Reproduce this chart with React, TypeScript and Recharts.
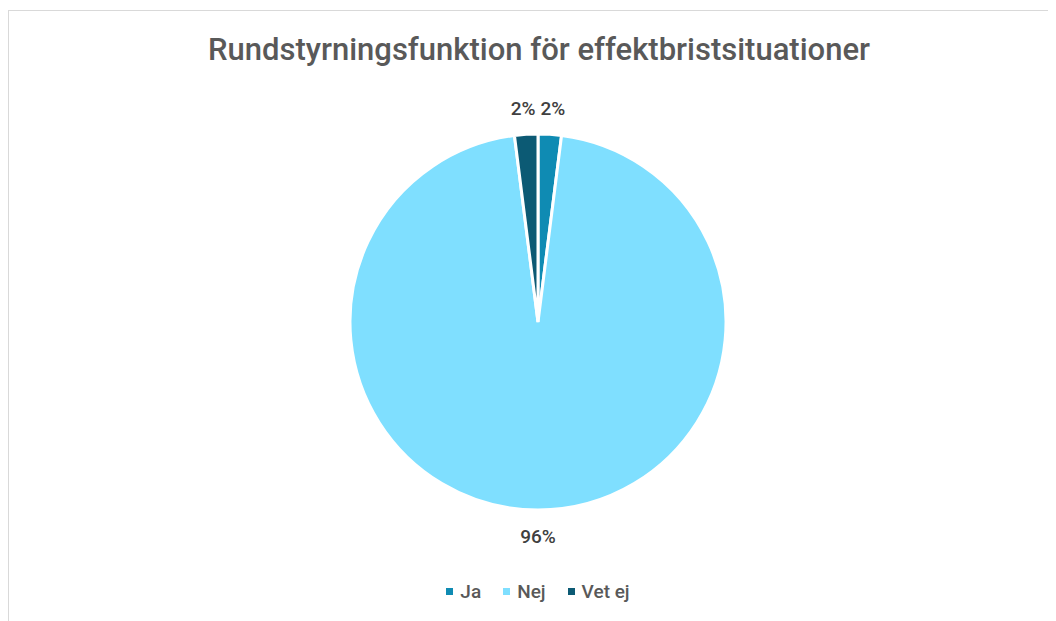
import React from 'react';
import { PieChart, Pie, Cell, Legend } from 'recharts';

const categories = ['Ja', 'Nej', 'Vet ej'];
const shares = [2, 96, 2];
const colors = ['#0f8bb3', '#7fdfff', '#0c5a74'];

const data = categories.map((name, i) => ({ name, value: shares[i] }));

const RADIAN = Math.PI / 180;

const renderLabel = (props: any) => {
    const { cx, cy, midAngle, outerRadius, percent } = props;
    const r = outerRadius + 26;
    const cos = Math.cos(-midAngle * RADIAN);
    let x = cx + r * cos;
    const y = cy + r * Math.sin(-midAngle * RADIAN);
    // spread the two small top labels apart, like Excel does
    let anchor: 'start' | 'end' | 'middle' = 'middle';
    if (Math.abs(cos) > 0.01 && Math.abs(cos) < 0.2) {
        anchor = cos > 0 ? 'start' : 'end';
        x = cos > 0 ? x - 11 : x + 11;
    }
    return (
        <text
            x={x}
            y={y}
            textAnchor={anchor}
            dominantBaseline="central"
            fill="#404040"
            fontSize={19}
            fontWeight={500}
        >
            {`${Math.round(percent * 100)}%`}
        </text>
    );
};

const renderLegend = (props: any) => {
    const { payload } = props;
    return (
        <div style={{ display: 'flex', justifyContent: 'center', gap: 22 }}>
            {payload.map((entry: any) => (
                <div key={entry.value} style={{ display: 'flex', alignItems: 'center', gap: 7 }}>
                    <div style={{ width: 7, height: 7, background: entry.color }}></div>
                    <span style={{ fontSize: 19, fontWeight: 500, color: '#595959' }}>{entry.value}</span>
                </div>
            ))}
        </div>
    );
};

export default function App() {
    return (
        <div
            style={{
                marginTop: 2,
                width: 1048,
                height: 611,
                borderLeft: '1px solid #d9d9d9',
                borderTop: '1px solid #d9d9d9',
                position: 'relative',
                fontFamily: 'Roboto, "Noto Sans", sans-serif',
                background: '#fff',
            }}
        >
            <div
                style={{
                    position: 'absolute',
                    left: 0,
                    top: 20,
                    width: 1060,
                    textAlign: 'center',
                    fontSize: 31,
                    fontWeight: 500,
                    color: '#595959',
                }}
            >
                Rundstyrningsfunktion för effektbristsituationer
            </div>
            <div style={{ position: 'absolute', left: -1, top: -1 }}>
                <PieChart width={1048} height={611}>
                    <Pie
                        data={data}
                        dataKey="value"
                        nameKey="name"
                        cx={525}
                        cy={307}
                        outerRadius={188}
                        startAngle={90}
                        endAngle={-270}
                        stroke="#ffffff"
                        strokeWidth={3}
                        label={renderLabel}
                        labelLine={false}
                        isAnimationActive={false}
                    >
                        {data.map((d, i) => (
                            <Cell key={d.name} fill={colors[i]} />
                        ))}
                    </Pie>
                    <Legend
                        content={renderLegend}
                        wrapperStyle={{ top: 570, left: 0, width: 1060 }}
                    />
                </PieChart>
            </div>
        </div>
    );
}
